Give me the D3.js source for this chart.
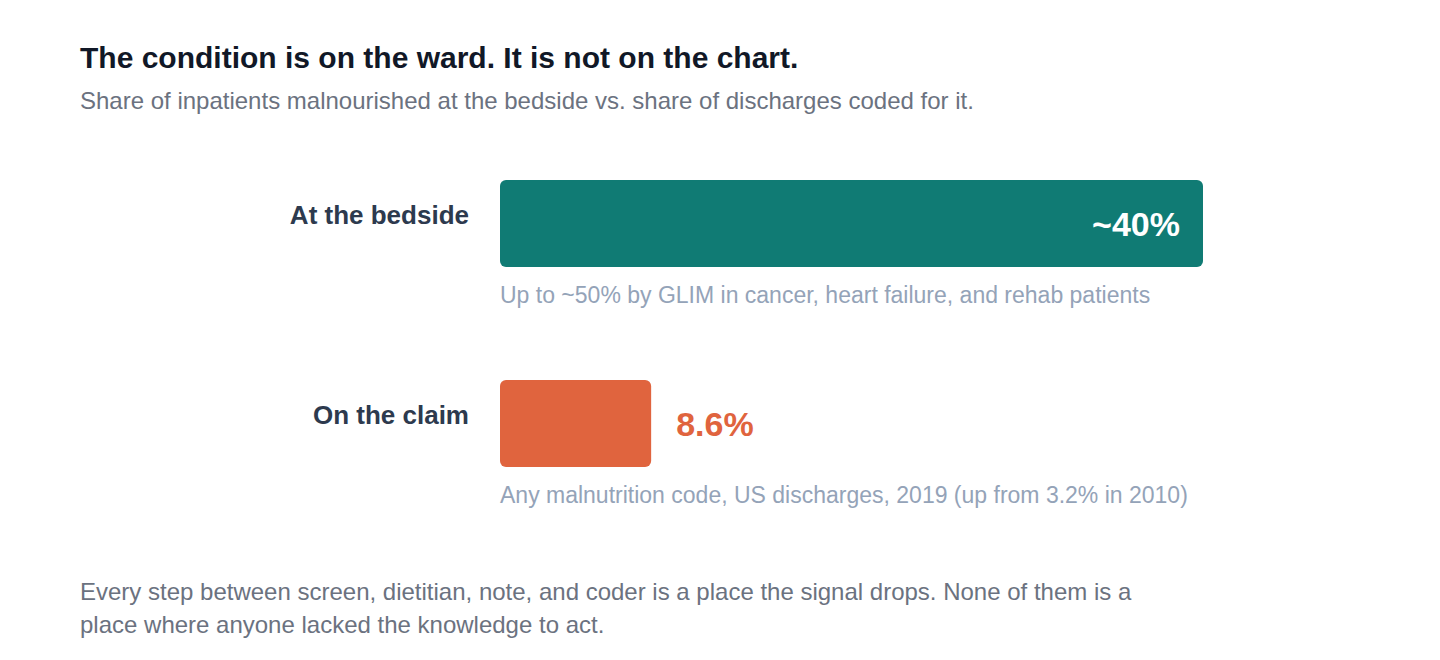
<!DOCTYPE html>
<html>
<head>
<meta charset="utf-8">
<script src="https://d3js.org/d3.v7.min.js"></script>
<style>
  body { margin: 0; background: #fff; }
  svg text { font-family: "Helvetica Neue", Helvetica, "Liberation Sans", Arial, sans-serif; }
</style>
</head>
<body>
<svg width="1440" height="660"></svg>
<script>
// Data
const categories = ["At the bedside", "On the claim"];
const values = [40, 8.6];
const valueLabels = ["~40%", "8.6%"];
const notes = [
  "Up to ~50% by GLIM in cancer, heart failure, and rehab patients",
  "Any malnutrition code, US discharges, 2019 (up from 3.2% in 2010)"
];
const colors = ["#107b74", "#e0643e"];

const title = "The condition is on the ward. It is not on the chart.";
const subtitle = "Share of inpatients malnourished at the bedside vs. share of discharges coded for it.";
const footer = [
  "Every step between screen, dietitian, note, and coder is a place the signal drops. None of them is a",
  "place where anyone lacked the knowledge to act."
];

const svg = d3.select("svg");

svg.append("text")
  .attr("x", 80).attr("y", 68)
  .attr("font-size", 30).attr("font-weight", 700)
  .attr("fill", "#111827")
  .text(title);

svg.append("text")
  .attr("x", 80).attr("y", 109)
  .attr("font-size", 24)
  .attr("fill", "#6b7280")
  .text(subtitle);

// Scales
const x = d3.scaleLinear().domain([0, 40]).range([0, 703]);
const y = d3.scalePoint().domain(categories).range([180, 380]);
const barH = 87;

const rows = svg.selectAll("g.row")
  .data(categories.map((c, i) => ({ c, v: values[i], lab: valueLabels[i], note: notes[i], color: colors[i], i })))
  .enter().append("g")
  .attr("class", "row")
  .attr("transform", d => `translate(0,${y(d.c)})`);

rows.append("text")
  .attr("x", 469).attr("y", 44)
  .attr("text-anchor", "end")
  .attr("font-size", 26).attr("font-weight", 700)
  .attr("fill", "#2d3a4e")
  .text(d => d.c);

rows.append("rect")
  .attr("x", 500).attr("y", 0)
  .attr("width", d => x(d.v))
  .attr("height", barH)
  .attr("rx", 6)
  .attr("fill", d => d.color);

rows.append("text")
  .attr("x", d => d.i === 0 ? 500 + x(d.v) - 23 : 500 + x(d.v) + 25)
  .attr("y", 56)
  .attr("text-anchor", d => d.i === 0 ? "end" : "start")
  .attr("font-size", 34).attr("font-weight", 700)
  .attr("fill", d => d.i === 0 ? "#ffffff" : d.color)
  .text(d => d.lab);

rows.append("text")
  .attr("x", 500).attr("y", barH + 36)
  .attr("font-size", 23)
  .attr("fill", "#94a3b8")
  .text(d => d.note);

svg.selectAll("text.foot")
  .data(footer)
  .enter().append("text")
  .attr("class", "foot")
  .attr("x", 80)
  .attr("y", (d, i) => 600 + i * 33)
  .attr("font-size", 24)
  .attr("fill", "#6b7280")
  .text(d => d);
</script>
</body>
</html>
